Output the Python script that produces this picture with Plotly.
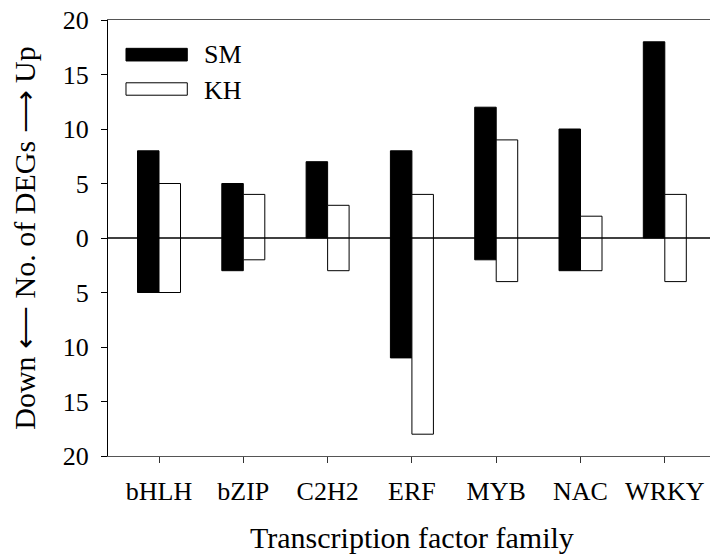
import plotly.graph_objects as go

# Transcription factor families and DEG counts (up / down) per cultivar
families = ["bHLH", "bZIP", "C2H2", "ERF", "MYB", "NAC", "WRKY"]
sm_up = [8, 5, 7, 8, 12, 10, 18]
sm_down = [5, 3, 0, 11, 2, 3, 0]
kh_up = [5, 4, 3, 4, 9, 2, 4]
kh_down = [5, 2, 3, 18, 4, 3, 4]

y_ticks = [-20, -15, -10, -5, 0, 5, 10, 15, 20]
y_tick_text = [str(abs(v)) for v in y_ticks]

FONT = "Liberation Serif, Times New Roman, serif"

fig = go.Figure()

# each bar spans from -down to +up around the zero line
fig.add_trace(go.Bar(
    name="SM", x=families,
    base=[-d for d in sm_down],
    y=[u + d for u, d in zip(sm_up, sm_down)],
    marker=dict(color="black", line=dict(color="black", width=1)),
    showlegend=False,
))
fig.add_trace(go.Bar(
    name="KH", x=families,
    base=[-d for d in kh_down],
    y=[u + d for u, d in zip(kh_up, kh_down)],
    marker=dict(color="white", line=dict(color="black", width=1)),
    showlegend=False,
))

# zero reference line drawn over the bars
fig.add_shape(type="line", xref="paper", x0=0, x1=1, yref="y", y0=0, y1=0,
              line=dict(color="black", width=1.5), layer="above")

# hand-made legend with wide swatches
legend_items = [("SM", "black", 0.935, 0.906, 0.921),
                ("KH", "white", 0.856, 0.8275, 0.838)]
for label, fill, top, bottom, text_y in legend_items:
    fig.add_shape(type="rect", xref="paper", yref="paper",
                  x0=0.0299, x1=0.1317, y0=bottom, y1=top,
                  fillcolor=fill, line=dict(color="black", width=1), layer="above")
    fig.add_annotation(text=label, xref="paper", yref="paper",
                       x=0.1556, y=text_y, xanchor="left", yanchor="middle",
                       showarrow=False, font=dict(family=FONT, size=26, color="black"))

# axis titles
fig.add_annotation(text="Down \u27f5 No. of DEGs \u27f6 Up", textangle=-90,
                   xref="paper", yref="paper", x=-0.14, y=0.5,
                   xanchor="center", yanchor="middle", showarrow=False,
                   font=dict(family=FONT, size=30, color="black"))
fig.add_annotation(text="Transcription factor family",
                   xref="paper", yref="paper", x=0.505, y=-0.187,
                   xanchor="center", yanchor="middle", showarrow=False,
                   font=dict(family=FONT, size=30, color="black"))

fig.update_layout(
    width=710, height=560,
    margin=dict(l=108, r=0, t=20, b=103.5),
    paper_bgcolor="white", plot_bgcolor="white",
    barmode="group", bargap=0.49, bargroupgap=0,
    font=dict(family=FONT, size=26, color="black"),
    xaxis=dict(
        range=[-0.605, 6.536], showgrid=False, zeroline=False,
        showline=True, linecolor="#555555", linewidth=1, mirror=True,
        ticks="outside", ticklen=6, tickcolor="#333333", tickwidth=1,
        ticklabelstandoff=6,
        tickfont=dict(family=FONT, size=26, color="black"),
    ),
    yaxis=dict(
        range=[-20, 20], showgrid=False, zeroline=False,
        showline=True, linecolor="black", linewidth=1,
        ticks="outside", ticklen=6, tickcolor="black", tickwidth=1,
        tickvals=y_ticks, ticktext=y_tick_text, ticklabelstandoff=7,
        tickfont=dict(family=FONT, size=26, color="black"),
    ),
)

fig.write_html("out.html")
